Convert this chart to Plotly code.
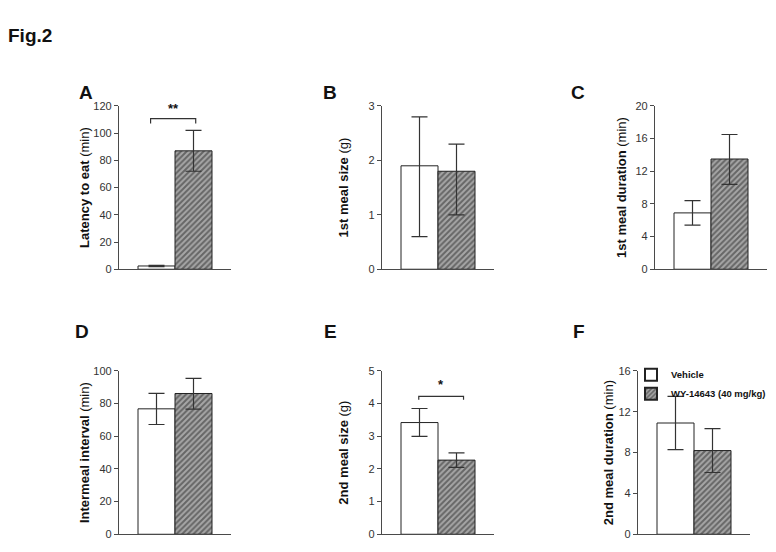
import plotly.graph_objects as go

# ---------------- data ----------------
groups = ["Vehicle", "WY-14643 (40 mg/kg)"]
panel_letters = ["A", "B", "C", "D", "E", "F"]

latency = [2.4, 87.0]
latency_plus = [0.5, 15.0]
latency_minus = [0.5, 15.0]

meal1_size = [1.9, 1.8]
meal1_size_plus = [0.9, 0.5]
meal1_size_minus = [1.3, 0.8]

meal1_dur = [6.9, 13.5]
meal1_dur_plus = [1.5, 3.0]
meal1_dur_minus = [1.5, 3.1]

intermeal = [76.8, 86.2]
intermeal_plus = [9.5, 9.2]
intermeal_minus = [9.6, 9.6]

meal2_size = [3.42, 2.27]
meal2_size_plus = [0.43, 0.22]
meal2_size_minus = [0.42, 0.22]

meal2_dur = [10.9, 8.2]
meal2_dur_plus = [2.6, 2.15]
meal2_dur_minus = [2.6, 2.15]

y_titles = [
    "<b>Latency to eat</b> (min)",
    "<b>1st meal size</b> (g)",
    "<b>1st meal duration</b> (min)",
    "<b>Intermeal interval</b> (min)",
    "<b>2nd meal size</b> (g)",
    "<b>2nd meal duration</b> (min)",
]
y_max = [120, 3, 20, 100, 5, 16]
y_dtick = [20, 1, 4, 20, 1, 4]

# significance brackets: (panel index, x0, x1, y_line, y_end, label, label_y)
sig_brackets = [
    (0, -0.16, 1.06, 110.7, 107.0, "**", 118.0),
    (4, -0.02, 1.19, 4.22, 4.12, "*", 4.58),
]

panel_data = [
    (latency, latency_plus, latency_minus),
    (meal1_size, meal1_size_plus, meal1_size_minus),
    (meal1_dur, meal1_dur_plus, meal1_dur_minus),
    (intermeal, intermeal_plus, intermeal_minus),
    (meal2_size, meal2_size_plus, meal2_size_minus),
    (meal2_dur, meal2_dur_plus, meal2_dur_minus),
]

# ---------------- layout geometry (window pixels) ----------------
OFF = 8                      # page body margin
W, H = 776 - OFF, 552 - OFF  # figure size so it fits the window


def px_x(px):
    return (px - OFF) / W


def px_y(py):
    return 1 - (py - OFF) / H


axis_left_px = [119, 382, 655, 119, 382, 638]
panel_w_px = 112
row_top_px = [102, 102, 102, 373, 373, 373]
row_bot_px = [269, 269, 269, 540, 540, 540]
title_standoff = [0, 17, 5, 0, 17, 1]
x_range = [-0.5 - 19 / 37, 1.5 + 19 / 37]

axis_col = "#4a4a4a"
font_fam = "Arial, Liberation Sans, sans-serif"

fig = go.Figure()

fill_styles = [
    dict(color="white", line=dict(color="#222", width=1)),
    dict(color="#8a8a8a", line=dict(color="#222", width=1),
         pattern=dict(shape="/", fgcolor="#262626", bgcolor="#a6a6a6", size=4, solidity=0.5)),
]

for i, (vals, plus, minus) in enumerate(panel_data):
    ax = "" if i == 0 else str(i + 1)
    for g in range(2):
        fig.add_trace(go.Bar(
            x=[g], y=[vals[g]], width=1,
            name="<b>" + groups[g] + "</b>",
            showlegend=(i == 5),
            legendrank=g,
            marker=fill_styles[g],
            error_y=dict(type="data", symmetric=False, array=[plus[g]], arrayminus=[minus[g]],
                         color="#333", thickness=1.2, width=8),
            xaxis="x" + ax, yaxis="y" + ax,
        ))
    L = axis_left_px[i]
    fig.layout["xaxis" + ax] = dict(
        domain=[px_x(L), px_x(L + panel_w_px)], range=x_range,
        showline=True, linecolor=axis_col, linewidth=1.2,
        showticklabels=False, ticks="", showgrid=False, zeroline=False,
        anchor="y" + ax, fixedrange=True,
    )
    fig.layout["yaxis" + ax] = dict(
        domain=[px_y(row_bot_px[i]), px_y(row_top_px[i])],
        range=[0, y_max[i]], dtick=y_dtick[i],
        showline=True, linecolor=axis_col, linewidth=1.2,
        ticks="outside", ticklen=4, tickwidth=1.2, tickcolor=axis_col,
        tickfont=dict(size=11, color="#333", family=font_fam),
        showgrid=False, zeroline=False,
        title=dict(text=y_titles[i], font=dict(size=13, color="#111", family=font_fam),
                   standoff=title_standoff[i]),
        anchor="x" + ax, fixedrange=True,
    )

annotations = []
shapes = []
for (pi, x0, x1, yl, ye, lab, ly) in sig_brackets:
    ax = "" if pi == 0 else str(pi + 1)
    shapes.append(dict(type="path", xref="x" + ax, yref="y" + ax,
                       path=f"M {x0},{ye} L {x0},{yl} L {x1},{yl} L {x1},{ye}",
                       line=dict(color="#333", width=1.2)))
    annotations.append(dict(xref="x" + ax, yref="y" + ax, x=(x0 + x1) / 2, y=ly,
                            text=f"<b>{lab}</b>", showarrow=False,
                            font=dict(size=13, color="#111", family=font_fam)))

letter_pos_px = [(77, 75), (330, 75), (587, 75), (73, 333), (330, 333), (587, 333)]
for lab, (px, py) in zip(panel_letters, letter_pos_px):
    annotations.append(dict(xref="paper", yref="paper", x=px_x(px), y=px_y(py),
                            text=f"<b>{lab}</b>", showarrow=False,
                            font=dict(size=19, color="#111", family=font_fam)))
annotations.append(dict(xref="paper", yref="paper", x=px_x(6), y=px_y(17), xanchor="left",
                        text="<b>Fig.2</b>", showarrow=False,
                        font=dict(size=19, color="#111", family=font_fam)))

fig.update_layout(
    width=W, height=H,
    margin=dict(l=0, r=0, t=0, b=0),
    paper_bgcolor="white", plot_bgcolor="white",
    barmode="overlay",
    showlegend=True,
    legend=dict(x=px_x(631), y=px_y(362), xanchor="left", yanchor="top",
                bgcolor="rgba(0,0,0,0)", font=dict(size=9.5, color="#111", family=font_fam),
                tracegroupgap=0, itemsizing="constant", traceorder="normal",
                itemwidth=30),
    annotations=annotations, shapes=shapes,
    font=dict(family=font_fam),
)

fig.write_html("out.html")
